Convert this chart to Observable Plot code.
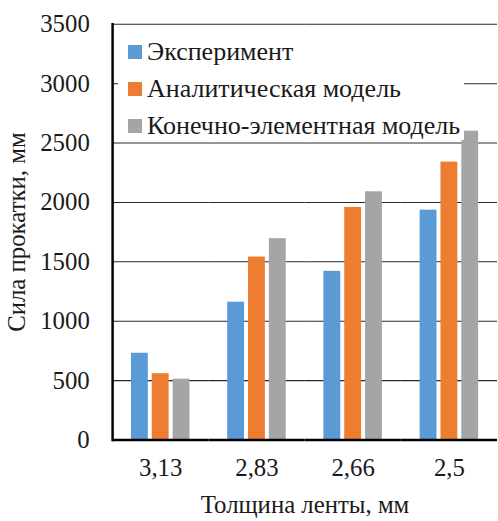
<!DOCTYPE html>
<html>
<head>
<meta charset="utf-8">
<script src="https://cdn.jsdelivr.net/npm/d3@7"></script>
<script src="https://cdn.jsdelivr.net/npm/@observablehq/plot@0.6"></script>
<style>
html, body { margin: 0; padding: 0; overflow: hidden; background: #fff; }
#wrap { position: relative; width: 498px; height: 521px; overflow: hidden; font-family: "Times New Roman", "Liberation Serif", serif; }
#wrap svg, #wrap svg text { font-family: "Times New Roman", "Liberation Serif", serif !important; }
#legend { position: absolute; left: 118px; top: 30px; width: 346px; height: 110px; background: #fff; padding-top: 3px; box-sizing: border-box; }
.row { display: flex; align-items: center; height: 37px; padding-left: 10px; font-size: 26px; color: #1a1a1a; font-family: "Times New Roman", "Liberation Serif", serif; }
.sw { width: 14px; height: 14px; margin-right: 5px; flex: none; }
</style>
</head>
<body>
<div id="wrap"></div>
<script>
const categories = ["3,13", "2,83", "2,66", "2,5"];
const series = ["Эксперимент", "Аналитическая модель", "Конечно-элементная модель"];
const experiment = [730, 1160, 1420, 1935];
const analytic = [558, 1540, 1958, 2340];
const fem = [512, 1695, 2090, 2600];
const colors = ["#5B9BD5", "#ED7D31", "#A5A5A5"];
const yTicks = [0, 500, 1000, 1500, 2000, 2500, 3000, 3500];
const yLabel = "Сила прокатки, мм";
const xLabel = "Толщина ленты, мм";

const valuesBySeries = [experiment, analytic, fem];
const data = [];
categories.forEach((c, i) => {
  series.forEach((s, j) => data.push({cat: c, series: s, value: valuesBySeries[j][i]}));
});

const chart = Plot.plot({
  width: 502,
  height: 521,
  marginLeft: 112,
  marginRight: 0,
  marginTop: 24,
  marginBottom: 78,
  style: {fontFamily: '"Times New Roman", "Liberation Serif", serif', fontSize: "25px", color: "#1a1a1a", background: "#fff", overflow: "visible"},
  fx: {domain: categories, padding: 0, axis: "bottom", tickSize: 0, tickPadding: 19, label: xLabel, labelAnchor: "center", labelOffset: 74, labelArrow: "none"},
  x: {domain: series, paddingInner: 0.21, paddingOuter: 0.8775, axis: null},
  y: {domain: [0, 3500], ticks: yTicks, tickSize: 0, tickPadding: 23, tickFormat: d => String(d), label: yLabel, labelAnchor: "center", labelOffset: 106, labelArrow: "none"},
  color: {domain: series, range: colors},
  marks: [
    Plot.ruleY(yTicks.slice(1), {stroke: "#2a2a2a", strokeWidth: 1.1}),
    Plot.barY(data, {fx: "cat", x: "series", y: "value", fill: "series"}),
    Plot.ruleY([0], {stroke: "#000", strokeWidth: 2.5}),
    Plot.frame({anchor: "left", facetAnchor: "left", stroke: "#000", strokeWidth: 2.5})
  ]
});
const wrap = document.getElementById("wrap");
wrap.appendChild(chart);

const legend = document.createElement("div");
legend.id = "legend";
series.forEach((s, j) => {
  const row = document.createElement("div");
  row.className = "row";
  const sw = document.createElement("span");
  sw.className = "sw";
  sw.style.background = colors[j];
  const t = document.createElement("span");
  t.textContent = s;
  row.appendChild(sw);
  row.appendChild(t);
  legend.appendChild(row);
});
wrap.appendChild(legend);
</script>
</body>
</html>
